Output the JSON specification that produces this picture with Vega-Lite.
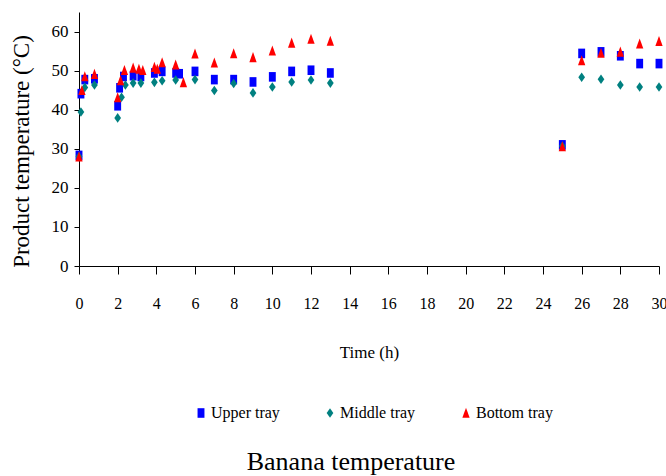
{
  "$schema": "https://vega.github.io/schema/vega-lite/v6.json",
  "width": 580,
  "height": 254,
  "autosize": {"type": "none"},
  "padding": {"left": 79, "top": 12, "right": 7, "bottom": 210},
  "background": "white",
  "title": {
    "text": "Banana temperature",
    "orient": "bottom",
    "anchor": "middle",
    "dx": -18,
    "offset": 28,
    "font": "Liberation Serif",
    "fontSize": 26,
    "fontWeight": "normal",
    "color": "#000000"
  },
  "config": {
    "view": {"stroke": null},
    "font": "Liberation Serif",
    "axis": {
      "grid": false,
      "domainColor": "#000000",
      "tickColor": "#000000",
      "labelColor": "#000000",
      "titleColor": "#000000",
      "labelFont": "Liberation Serif",
      "titleFont": "Liberation Serif",
      "titleFontWeight": "normal",
      "labelFontSize": 17,
      "titleFontSize": 17
    },
    "legend": {
      "labelFont": "Liberation Serif"
    }
  },
  "data": {
    "values": [
      {"t": 0, "temp": 28.3, "tray": "Upper tray"},
      {"t": 0.1, "temp": 44.1, "tray": "Upper tray"},
      {"t": 0.3, "temp": 47.7, "tray": "Upper tray"},
      {"t": 0.8, "temp": 47.9, "tray": "Upper tray"},
      {"t": 2.0, "temp": 41.0, "tray": "Upper tray"},
      {"t": 2.1, "temp": 45.6, "tray": "Upper tray"},
      {"t": 2.3, "temp": 48.5, "tray": "Upper tray"},
      {"t": 2.8, "temp": 48.7, "tray": "Upper tray"},
      {"t": 3.2, "temp": 48.5, "tray": "Upper tray"},
      {"t": 3.9, "temp": 49.4, "tray": "Upper tray"},
      {"t": 4.3, "temp": 49.8, "tray": "Upper tray"},
      {"t": 5.0, "temp": 49.4, "tray": "Upper tray"},
      {"t": 5.2, "temp": 49.2, "tray": "Upper tray"},
      {"t": 6.0, "temp": 49.8, "tray": "Upper tray"},
      {"t": 7, "temp": 47.7, "tray": "Upper tray"},
      {"t": 8, "temp": 47.7, "tray": "Upper tray"},
      {"t": 9, "temp": 47.1, "tray": "Upper tray"},
      {"t": 10, "temp": 48.4, "tray": "Upper tray"},
      {"t": 11, "temp": 49.8, "tray": "Upper tray"},
      {"t": 12, "temp": 50.1, "tray": "Upper tray"},
      {"t": 13, "temp": 49.4, "tray": "Upper tray"},
      {"t": 25, "temp": 31.0, "tray": "Upper tray"},
      {"t": 26, "temp": 54.4, "tray": "Upper tray"},
      {"t": 27, "temp": 54.8, "tray": "Upper tray"},
      {"t": 28, "temp": 53.8, "tray": "Upper tray"},
      {"t": 29, "temp": 51.8, "tray": "Upper tray"},
      {"t": 30, "temp": 51.8, "tray": "Upper tray"},
      {"t": 0, "temp": 28.0, "tray": "Middle tray"},
      {"t": 0.1, "temp": 39.4, "tray": "Middle tray"},
      {"t": 0.3, "temp": 45.7, "tray": "Middle tray"},
      {"t": 0.8, "temp": 46.3, "tray": "Middle tray"},
      {"t": 2.0, "temp": 37.9, "tray": "Middle tray"},
      {"t": 2.2, "temp": 43.2, "tray": "Middle tray"},
      {"t": 2.4, "temp": 46.3, "tray": "Middle tray"},
      {"t": 2.8, "temp": 46.8, "tray": "Middle tray"},
      {"t": 3.2, "temp": 46.8, "tray": "Middle tray"},
      {"t": 3.9, "temp": 47.0, "tray": "Middle tray"},
      {"t": 4.3, "temp": 47.4, "tray": "Middle tray"},
      {"t": 5.0, "temp": 47.6, "tray": "Middle tray"},
      {"t": 6.0, "temp": 47.7, "tray": "Middle tray"},
      {"t": 7, "temp": 44.9, "tray": "Middle tray"},
      {"t": 8, "temp": 46.7, "tray": "Middle tray"},
      {"t": 9, "temp": 44.3, "tray": "Middle tray"},
      {"t": 10, "temp": 45.8, "tray": "Middle tray"},
      {"t": 11, "temp": 47.1, "tray": "Middle tray"},
      {"t": 12, "temp": 47.6, "tray": "Middle tray"},
      {"t": 13, "temp": 46.8, "tray": "Middle tray"},
      {"t": 25, "temp": 30.7, "tray": "Middle tray"},
      {"t": 26, "temp": 48.3, "tray": "Middle tray"},
      {"t": 27, "temp": 47.8, "tray": "Middle tray"},
      {"t": 28, "temp": 46.3, "tray": "Middle tray"},
      {"t": 29, "temp": 45.8, "tray": "Middle tray"},
      {"t": 30, "temp": 45.8, "tray": "Middle tray"},
      {"t": 0, "temp": 28.0, "tray": "Bottom tray"},
      {"t": 0.15, "temp": 45.0, "tray": "Bottom tray"},
      {"t": 0.3, "temp": 48.5, "tray": "Bottom tray"},
      {"t": 0.8, "temp": 49.1, "tray": "Bottom tray"},
      {"t": 2.0, "temp": 43.1, "tray": "Bottom tray"},
      {"t": 2.15, "temp": 47.5, "tray": "Bottom tray"},
      {"t": 2.35, "temp": 50.1, "tray": "Bottom tray"},
      {"t": 2.8, "temp": 50.7, "tray": "Bottom tray"},
      {"t": 3.1, "temp": 50.4, "tray": "Bottom tray"},
      {"t": 3.3, "temp": 50.1, "tray": "Bottom tray"},
      {"t": 3.9, "temp": 50.9, "tray": "Bottom tray"},
      {"t": 4.05, "temp": 50.4, "tray": "Bottom tray"},
      {"t": 4.3, "temp": 52.1, "tray": "Bottom tray"},
      {"t": 5.0, "temp": 51.5, "tray": "Bottom tray"},
      {"t": 5.4, "temp": 47.0, "tray": "Bottom tray"},
      {"t": 6.0, "temp": 54.3, "tray": "Bottom tray"},
      {"t": 7, "temp": 52.0, "tray": "Bottom tray"},
      {"t": 8, "temp": 54.4, "tray": "Bottom tray"},
      {"t": 9, "temp": 53.4, "tray": "Bottom tray"},
      {"t": 10, "temp": 55.1, "tray": "Bottom tray"},
      {"t": 11, "temp": 57.1, "tray": "Bottom tray"},
      {"t": 12, "temp": 58.1, "tray": "Bottom tray"},
      {"t": 13, "temp": 57.6, "tray": "Bottom tray"},
      {"t": 25, "temp": 30.6, "tray": "Bottom tray"},
      {"t": 26, "temp": 52.6, "tray": "Bottom tray"},
      {"t": 27, "temp": 54.5, "tray": "Bottom tray"},
      {"t": 28, "temp": 54.8, "tray": "Bottom tray"},
      {"t": 29, "temp": 56.9, "tray": "Bottom tray"},
      {"t": 30, "temp": 57.5, "tray": "Bottom tray"}
    ]
  },
  "mark": {"type": "point", "filled": true, "opacity": 1, "size": 92},
  "encoding": {
    "x": {
      "field": "t",
      "type": "quantitative",
      "scale": {"domain": [0, 30], "nice": false, "zero": false},
      "axis": {
        "title": "Time (h)",
        "values": [0, 2, 4, 6, 8, 10, 12, 14, 16, 18, 20, 22, 24, 26, 28, 30],
        "tickSize": 8,
        "labelFontSize": 16,
        "labelPadding": 21,
        "titlePadding": 33,
        "labelFlush": false
      }
    },
    "y": {
      "field": "temp",
      "type": "quantitative",
      "scale": {"domain": [0, 65], "nice": false},
      "axis": {
        "title": "Product temperature (°C)",
        "titleFontSize": 23,
        "values": [0, 10, 20, 30, 40, 50, 60],
        "tickSize": 5,
        "labelPadding": 6,
        "titlePadding": 18,
        "titleY": 139,
        "labelFlush": false
      }
    },
    "color": {
      "field": "tray",
      "type": "nominal",
      "scale": {"domain": ["Upper tray", "Middle tray", "Bottom tray"], "range": ["#0000FF", "#008080", "#FF0000"]},
      "legend": {
        "title": null,
        "orient": "none",
        "direction": "horizontal",
        "legendX": 114,
        "legendY": 393,
        "padding": 0,
        "labelFont": "Liberation Serif",
        "labelFontSize": 16,
        "labelColor": "#000000",
        "labelOffset": 2,
        "columnPadding": 42,
        "symbolSize": 92,
        "symbolOpacity": 1
      }
    },
    "shape": {
      "field": "tray",
      "type": "nominal",
      "scale": {"domain": ["Upper tray", "Middle tray", "Bottom tray"], "range": ["M-0.72,-1H0.72V1H-0.72Z", "M0,-1L0.7,0L0,1L-0.7,0Z", "M0,-1.1L0.76,1L-0.76,1Z"]}
    }
  }
}
